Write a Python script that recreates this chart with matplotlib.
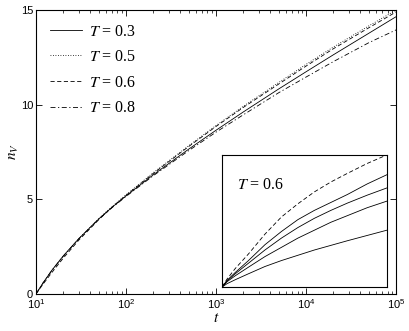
import numpy as np
import matplotlib
matplotlib.use('Agg')
import matplotlib.pyplot as plt
from matplotlib.ticker import LogLocator, NullFormatter

plt.rcParams['font.family'] = 'Liberation Sans'
plt.rcParams['mathtext.fontset'] = 'stix'

# main curves: number of visited sites vs time
t = [10, 12, 15, 20, 30, 50, 70, 100, 200, 500, 1000, 2000, 5000, 1e4, 2e4, 5e4, 1e5]
n_03 = [0, 0.59, 1.25, 2.0, 2.93, 3.97, 4.58, 5.18, 6.29, 7.66, 8.65, 9.61, 10.84, 11.74, 12.63, 13.78, 14.65]
n_05 = [0, 0.58, 1.22, 1.97, 2.93, 3.99, 4.62, 5.24, 6.40, 7.84, 8.90, 9.91, 11.18, 12.13, 13.04, 14.17, 15.0]
n_06 = [0, 0.52, 1.13, 1.88, 2.85, 3.93, 4.58, 5.21, 6.36, 7.80, 8.85, 9.85, 11.10, 12.04, 12.95, 14.07, 14.9]
n_08 = [0, 0.58, 1.24, 1.98, 2.92, 3.96, 4.56, 5.15, 6.24, 7.58, 8.55, 9.46, 10.64, 11.46, 12.27, 13.28, 13.95]
labels = ['0.3', '0.5', '0.6', '0.8']

# inset curves (T = 0.6), normalised coordinates
xi = [0, 0.03, 0.08, 0.16, 0.26, 0.36, 0.46, 0.56, 0.66, 0.76, 0.88, 1.0]
yi_dash = [0, 0.06, 0.14, 0.25, 0.40, 0.53, 0.63, 0.72, 0.795, 0.86, 0.935, 1.0]
yi_s1 = [0, 0.05, 0.11, 0.20, 0.32, 0.42, 0.51, 0.58, 0.64, 0.70, 0.78, 0.85]
yi_s2 = [0, 0.045, 0.10, 0.18, 0.28, 0.37, 0.45, 0.52, 0.58, 0.635, 0.695, 0.75]
yi_s3 = [0, 0.04, 0.085, 0.15, 0.23, 0.30, 0.37, 0.43, 0.49, 0.54, 0.60, 0.65]
yi_s4 = [0, 0.025, 0.055, 0.10, 0.155, 0.20, 0.24, 0.28, 0.315, 0.35, 0.39, 0.43]

fig = plt.figure(figsize=(4.09, 3.31), dpi=100)
ax = fig.add_axes([0.088, 0.112, 0.881, 0.858])

styles = ['-', (0, (1, 2)), (0, (5, 3)), (0, (6, 3, 1.5, 3))]
for n, ls, lab in zip([n_03, n_05, n_06, n_08], styles, labels):
    ax.plot(t, n, color='k', lw=0.6, linestyle=ls, label='$T$ = ' + lab)

ax.set_xscale('log')
ax.set_xlim(10, 1e5)
ax.set_ylim(0, 15)
ax.set_yticks([0, 5, 10, 15])
ax.xaxis.set_minor_locator(LogLocator(base=10, subs=np.arange(2, 10)))
ax.xaxis.set_minor_formatter(NullFormatter())
ax.tick_params(which='both', direction='in', top=True, right=True, labelsize=8, pad=2)
ax.tick_params(which='major', length=4, width=0.6)
ax.tick_params(which='minor', length=2, width=0.5)
for s in ax.spines.values():
    s.set_linewidth(0.8)

ax.set_xlabel('$t$', fontsize=11, labelpad=0)
ax.set_ylabel('$n_V$', fontsize=11, labelpad=0)

leg = ax.legend(loc='upper left', frameon=False, handlelength=2.0,
                handletextpad=0.5, labelspacing=0.6, borderaxespad=0.45,
                prop={'family': 'Liberation Serif', 'size': 11.5})

ins = fig.add_axes([0.543, 0.133, 0.403, 0.399])
ins.plot(xi, yi_dash, color='k', lw=0.6, linestyle=(0, (5, 3)))
for yy in [yi_s1, yi_s2, yi_s3, yi_s4]:
    ins.plot(xi, yy, color='k', lw=0.6)
ins.set_xlim(0, 1)
ins.set_ylim(0, 1)
ins.set_xticks([])
ins.set_yticks([])
for s in ins.spines.values():
    s.set_linewidth(0.8)
ins.text(0.09, 0.77, '$T$ = 0.6', transform=ins.transAxes, fontsize=11.5,
         family='Liberation Serif', va='center')

fig.savefig('out.png', dpi=100)
